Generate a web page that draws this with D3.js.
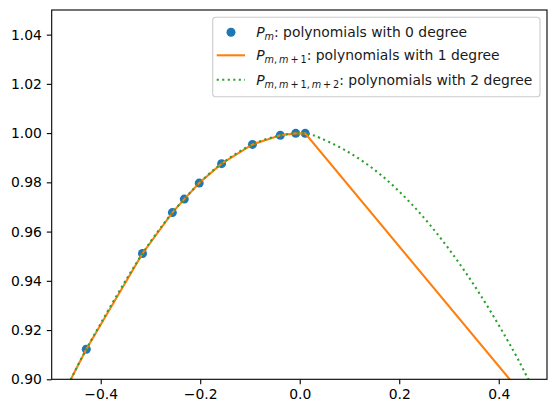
<!DOCTYPE html>
<html>
<head>
<meta charset="utf-8">
<script src="https://cdn.jsdelivr.net/npm/d3@7"></script>
<style>
  body { margin: 0; background: #fff; }
  text { font-family: "DejaVu Sans", sans-serif; }
</style>
</head>
<body>
<div id="chart"></div>
<script>
// sample points (degree 0)
var pointX = [-0.429, -0.316, -0.256, -0.232, -0.202, -0.157, -0.095, -0.039, -0.008, 0.011];
var pointY = [0.9122, 0.9511, 0.9677, 0.9732, 0.9797, 0.9876, 0.9954, 0.9991, 0.9999, 0.9999];

// degree 1 line (piecewise, extended past the axes at both ends)
var linX = [-0.47, -0.429, -0.316, -0.256, -0.232, -0.202, -0.157, -0.095, -0.039, -0.008, 0.011, 0.45];
var linY = [0.8961, 0.9122, 0.9511, 0.9677, 0.9732, 0.9797, 0.9876, 0.9954, 0.9991, 0.9999, 0.9999, 0.8932];

// degree 2 curve
var quadX = [-0.47, -0.429, -0.316, -0.256, -0.232, -0.202, -0.157, -0.095, -0.039, -0.008, 0.011,
             0.0274, 0.0944, 0.1614, 0.2284, 0.2954, 0.3624, 0.4294, 0.46, 0.48];
var quadY = [0.8958, 0.9122, 0.9511, 0.9677, 0.9732, 0.9797, 0.9876, 0.9954, 0.9991, 0.9999, 0.9999,
             0.9991, 0.9927, 0.9833, 0.9704, 0.9541, 0.9345, 0.9116, 0.8998, 0.8920];

var xTicks = [-0.4, -0.2, 0.0, 0.2, 0.4];
var yTicks = [0.90, 0.92, 0.94, 0.96, 0.98, 1.00, 1.02, 1.04];

var width = 556, height = 413;
var pLeft = 51.7, pRight = 547, pTop = 10, pBottom = 379.3;

var svg = d3.select('#chart')
  .append('svg')
  .attr('width', width)
  .attr('height', height);

var x = d3.scaleLinear().domain([-0.4985, 0.497]).range([pLeft, pRight]);
var y = d3.scaleLinear().domain([0.90, 1.05]).range([pBottom, pTop]);

svg.append('clipPath').attr('id', 'plotclip')
  .append('rect')
  .attr('x', pLeft).attr('y', pTop)
  .attr('width', pRight - pLeft).attr('height', pBottom - pTop);

var plot = svg.append('g').attr('clip-path', 'url(#plotclip)');

// scatter sits below the lines, like matplotlib zorder
plot.selectAll('circle.pt')
  .data(pointX.map((d, i) => [d, pointY[i]]))
  .enter().append('circle')
  .attr('class', 'pt')
  .attr('cx', d => x(d[0]))
  .attr('cy', d => y(d[1]))
  .attr('r', 4.5)
  .style('fill', '#1f77b4');

var line = d3.line().x(d => x(d[0])).y(d => y(d[1]));

plot.append('path')
  .datum(linX.map((d, i) => [d, linY[i]]))
  .attr('d', line)
  .style('fill', 'none')
  .style('stroke', '#ff7f0e')
  .style('stroke-width', 2.08);

plot.append('path')
  .datum(quadX.map((d, i) => [d, quadY[i]]))
  .attr('d', line.curve(d3.curveCatmullRom))
  .style('fill', 'none')
  .style('stroke', '#2ca02c')
  .style('stroke-width', 2.08)
  .style('stroke-dasharray', '2.08,3.44');

// axes
var xAxis = d3.axisBottom(x).tickValues(xTicks).tickSize(4.9).tickPadding(4.9)
  .tickFormat(d => d3.format('.1f')(d).replace('-', '\u2212'));
var yAxis = d3.axisLeft(y).tickValues(yTicks).tickSize(4.9).tickPadding(4.9)
  .tickFormat(d3.format('.2f'));

var gx = svg.append('g').attr('transform', 'translate(0,' + pBottom + ')').call(xAxis);
var gy = svg.append('g').attr('transform', 'translate(' + pLeft + ',0)').call(yAxis);

[gx, gy].forEach(g => {
  g.select('.domain').remove();
  g.selectAll('line').style('stroke', '#000').style('stroke-width', 1.1);
  g.selectAll('text').style('font-size', '13.9px').style('fill', '#000')
    .style('font-family', '"DejaVu Sans", sans-serif');
});

svg.append('rect')
  .attr('x', pLeft).attr('y', pTop)
  .attr('width', pRight - pLeft).attr('height', pBottom - pTop)
  .style('fill', 'none').style('stroke', '#000').style('stroke-width', 1.1);

// legend
var lg = svg.append('g').attr('transform', 'translate(212.7,17.3)');
lg.append('rect')
  .attr('width', 327.3).attr('height', 79.4)
  .attr('rx', 3).attr('ry', 3)
  .style('fill', 'rgba(255,255,255,0.8)')
  .style('stroke', '#cccccc').style('stroke-width', 1.1);

var rowY = [15, 38, 62.5];

lg.append('circle').attr('cx', 18.3).attr('cy', rowY[0]).attr('r', 4.5).style('fill', '#1f77b4');
lg.append('line').attr('x1', 4).attr('x2', 32.3).attr('y1', rowY[1]).attr('y2', rowY[1])
  .style('stroke', '#ff7f0e').style('stroke-width', 2.08);
lg.append('line').attr('x1', 4).attr('x2', 32.3).attr('y1', rowY[2]).attr('y2', rowY[2])
  .style('stroke', '#2ca02c').style('stroke-width', 2.08).style('stroke-dasharray', '2.08,3.44');

// [text, italic, subscript]
var labels = [
  [['P', 1, 0], ['m', 1, 1], [': polynomials with 0 degree', 0, 0]],
  [['P', 1, 0], ['m', 1, 1], [',\u2009', 0, 1], ['m', 1, 1], ['\u2009+\u20091', 0, 1], [': polynomials with 1 degree', 0, 0]],
  [['P', 1, 0], ['m', 1, 1], [',\u2009', 0, 1], ['m', 1, 1], ['\u2009+\u20091,\u2009', 0, 1], ['m', 1, 1],
   ['\u2009+\u20092', 0, 1], [': polynomials with 2 degree', 0, 0]]
];

labels.forEach((parts, i) => {
  var t = lg.append('text')
    .attr('x', 43.5).attr('y', rowY[i] + 5)
    .style('font-size', '13.9px').style('fill', '#1a1a1a');
  var sub = false;
  parts.forEach(p => {
    var s = t.append('tspan').text(p[0]);
    if (p[1]) s.style('font-style', 'italic');
    if (p[2] && !sub) { s.attr('dy', 2.8); sub = true; }
    if (!p[2] && sub) { s.attr('dy', -2.8); sub = false; }
    if (p[2]) s.style('font-size', '9.7px');
  });
});
</script>
</body>
</html>
